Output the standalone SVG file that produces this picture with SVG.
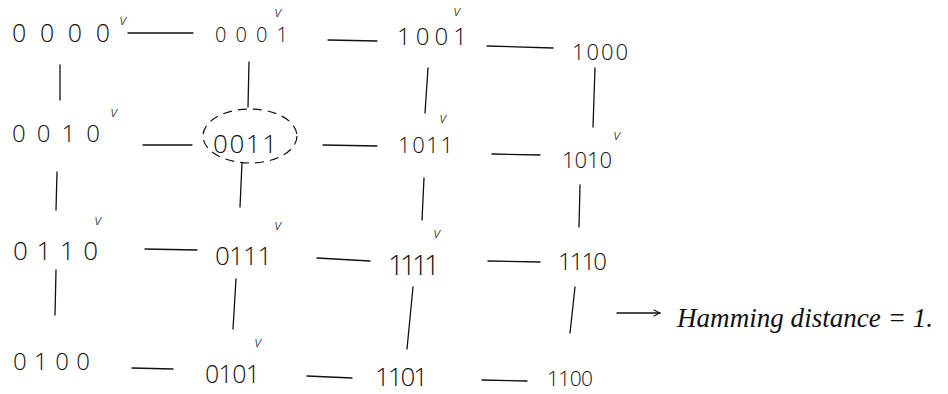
<svg xmlns="http://www.w3.org/2000/svg" width="948" height="394" viewBox="0 0 948 394">
<defs>
<style>
.d{font-family:"Open Sans","Liberation Sans",sans-serif;font-weight:300;fill:#111;}
.v{font-family:"Open Sans","Liberation Sans",sans-serif;font-weight:300;fill:#111;font-size:15px;font-style:italic;text-anchor:middle;}
.c{stroke:#111;stroke-width:1.3;fill:none;stroke-linecap:round;}
.h{font-family:"Liberation Serif",serif;font-style:italic;fill:#111;font-size:27px;}
</style>
<marker id="ah" viewBox="0 0 10 10" refX="9" refY="5" markerWidth="8" markerHeight="8" orient="auto" markerUnits="userSpaceOnUse">
<path d="M1,1 L9,5 L1,9" fill="none" stroke="#111" stroke-width="1.3"/>
</marker>
</defs>
<rect width="948" height="394" fill="#fff"/>
<g id="connectors" class="c">
<line x1="128" y1="33" x2="193" y2="33"/>
<line x1="328" y1="40" x2="377" y2="41"/>
<line x1="487" y1="46" x2="553" y2="48"/>
<line x1="143" y1="145" x2="192" y2="145"/>
<line x1="323" y1="145" x2="377" y2="146"/>
<line x1="492" y1="154" x2="540" y2="155"/>
<line x1="145" y1="249" x2="197" y2="250"/>
<line x1="317" y1="258" x2="370" y2="261"/>
<line x1="488" y1="261" x2="540" y2="262"/>
<line x1="132" y1="368" x2="173" y2="369"/>
<line x1="307" y1="376" x2="352" y2="378"/>
<line x1="482" y1="380" x2="527" y2="381"/>
<line x1="60" y1="65" x2="60" y2="100"/>
<line x1="57" y1="172" x2="56" y2="210"/>
<line x1="56" y1="270" x2="55" y2="315"/>
<line x1="249" y1="62" x2="248" y2="107"/>
<line x1="242" y1="163" x2="240" y2="207"/>
<line x1="236" y1="279" x2="233" y2="329"/>
<line x1="428" y1="68" x2="425" y2="113"/>
<line x1="424" y1="178" x2="422" y2="220"/>
<line x1="413" y1="287" x2="407" y2="349"/>
<line x1="595" y1="68" x2="593" y2="127"/>
<line x1="580" y1="185" x2="579" y2="227"/>
<line x1="575" y1="287" x2="570" y2="333"/>
<line x1="617" y1="313" x2="660" y2="313" marker-end="url(#ah)"/>
</g>
<g id="n0000"><text class="d" x="12" y="42" font-size="25" textLength="98" lengthAdjust="spacing">0000</text><text class="v" x="123" y="25">v</text></g>
<g id="n0001"><text class="d" x="215" y="42" font-size="20" textLength="73" lengthAdjust="spacing">0001</text><text class="v" x="278" y="17" font-size="13">v</text></g>
<g id="n1001"><text class="d" x="397" y="45" font-size="24" textLength="70" lengthAdjust="spacing">1001</text><text class="v" x="457" y="16" font-size="14">v</text></g>
<g id="n1000"><text class="d" x="572" y="60" font-size="22" textLength="56" lengthAdjust="spacing">1000</text></g>
<g id="n0010"><text class="d" x="12" y="142" font-size="24" textLength="88" lengthAdjust="spacing">0010</text><text class="v" x="114" y="117">v</text></g>
<g id="n0011"><ellipse cx="250" cy="136" rx="47" ry="27" fill="none" stroke="#111" stroke-width="1.2" stroke-dasharray="9 6"/><text class="d" x="213" y="153" font-size="26" textLength="64" lengthAdjust="spacing">0011</text></g>
<g id="n1011"><text class="d" x="398" y="153" font-size="22" textLength="55" lengthAdjust="spacing">1011</text><text class="v" x="443" y="123">v</text></g>
<g id="n1010"><text class="d" x="562" y="168" font-size="22" textLength="50" lengthAdjust="spacing">1010</text><text class="v" x="617" y="140" font-size="17">v</text></g>
<g id="n0110"><text class="d" x="13" y="260" font-size="26" textLength="85" lengthAdjust="spacing">0110</text><text class="v" x="98" y="225">v</text></g>
<g id="n0111"><text class="d" x="215" y="265" font-size="26" textLength="57" lengthAdjust="spacing">0111</text><text class="v" x="278" y="230" font-size="12">v</text></g>
<g id="n1111"><text class="d" x="388" y="275" font-size="28" textLength="52" lengthAdjust="spacing">1111</text><text class="v" x="437" y="238" font-size="11">v</text></g>
<g id="n1110"><text class="d" x="558" y="270" font-size="24" textLength="49" lengthAdjust="spacing">1110</text></g>
<g id="n0100"><text class="d" x="13" y="370" font-size="24" textLength="77" lengthAdjust="spacing">0100</text></g>
<g id="n0101"><text class="d" x="205" y="383" font-size="25" textLength="55" lengthAdjust="spacing">0101</text><text class="v" x="258" y="347" font-size="13">v</text></g>
<g id="n1101"><text class="d" x="375" y="386" font-size="26" textLength="53" lengthAdjust="spacing">1101</text></g>
<g id="n1100"><text class="d" x="547" y="386" font-size="21" textLength="46" lengthAdjust="spacing">1100</text></g>
<g id="label"><text class="h" x="677" y="327" textLength="256" lengthAdjust="spacingAndGlyphs">Hamming distance = 1.</text></g>
</svg>
